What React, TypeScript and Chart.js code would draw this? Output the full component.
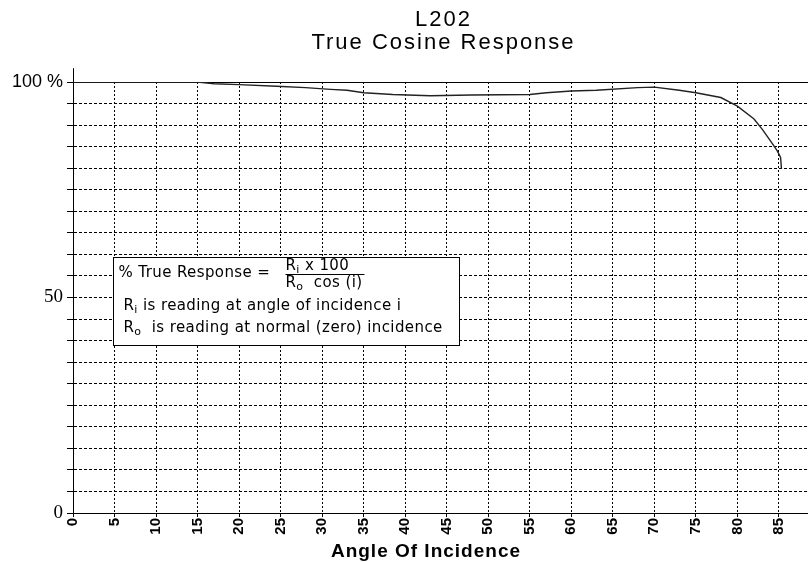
import { useEffect, useRef } from 'react';
import { Chart, registerables } from 'chart.js';

Chart.register(...registerables);

const chartTitle = ['L202', 'True Cosine Response'];
const xAxisTitle = 'Angle Of Incidence';
const xTickValues = [0, 5, 10, 15, 20, 25, 30, 35, 40, 45, 50, 55, 60, 65, 70, 75, 80, 85];
const yLabelValues = [0, 50, 100];
const yLabelTexts = ['0', '50', '100 %'];

const angles = [0, 5, 10, 15, 17, 20, 24.5, 28, 31, 33, 35, 38.5, 43, 48, 55, 57, 60, 63, 68, 70, 73, 75, 78, 80, 82, 83, 84, 84.8, 85.2, 85.3];
const response = [100, 100, 100, 100, 99.6, 99.4, 99.0, 98.7, 98.3, 98.1, 97.5, 97.1, 96.8, 97.0, 97.1, 97.5, 97.9, 98.1, 98.7, 98.8, 98.1, 97.5, 96.4, 94.4, 91.4, 89.0, 86.3, 84.0, 82.5, 79.9];

const SANS = '"Liberation Sans", Arial, sans-serif';
const WIDE = '"DejaVu Sans", sans-serif';
const SERIF = '"Liberation Serif", "Times New Roman", serif';

type Part = { t: string; sub?: boolean };

function drawRich(ctx: CanvasRenderingContext2D, parts: Part[], x: number, y: number, size: number) {
  let cx = x;
  for (const p of parts) {
    if (p.sub) {
      ctx.font = `${Math.round(size * 0.7)}px ${WIDE}`;
      ctx.fillText(p.t, cx, y + 3);
    } else {
      ctx.font = `${size}px ${WIDE}`;
      ctx.fillText(p.t, cx, y);
    }
    cx += ctx.measureText(p.t).width;
  }
  return cx - x;
}

const overlayPlugin = {
  id: 'overlay',
  afterDraw(chart: any) {
    const { ctx, chartArea, scales } = chart;
    const xs = scales.x;
    const ys = scales.y;
    ctx.save();
    // y axis extension above 100
    const ppu = (chartArea.bottom - chartArea.top) / 100;
    const ax = Math.round(chartArea.left) + 0.5;
    ctx.strokeStyle = '#000';
    ctx.lineWidth = 1;
    ctx.beginPath();
    ctx.moveTo(ax, chartArea.top);
    ctx.lineTo(ax, chartArea.top - 3.2 * ppu);
    ctx.stroke();

    // titles
    ctx.fillStyle = '#000';
    ctx.textAlign = 'center';
    ctx.textBaseline = 'alphabetic';
    (ctx as any).letterSpacing = '2px';
    ctx.font = `22px ${SANS}`;
    const cxTitle = (chartArea.left + chartArea.right) / 2 + 3;
    ctx.fillText(chartTitle[0], cxTitle, 26);
    ctx.fillText(chartTitle[1], cxTitle, 49);
    (ctx as any).letterSpacing = '1px';
    ctx.font = `bold 19px ${SANS}`;
    ctx.fillText(xAxisTitle, xs.getPixelForValue(42.5), chart.height - 5);

    // formula box
    (ctx as any).letterSpacing = '0.4px';
    const bl = Math.round(xs.getPixelForValue(4.8)) + 0.5;
    const br = Math.round(xs.getPixelForValue(46.5)) + 0.5;
    const bt = Math.round(ys.getPixelForValue(59.5)) + 0.5;
    const bb = Math.round(ys.getPixelForValue(38.9)) + 0.5;
    ctx.fillStyle = '#fff';
    ctx.fillRect(bl, bt, br - bl, bb - bt);
    ctx.strokeStyle = '#000';
    ctx.strokeRect(bl, bt, br - bl, bb - bt);
    ctx.fillStyle = '#000';
    ctx.textAlign = 'left';
    const fs = 15;
    drawRich(ctx, [{ t: '% True Response =' }], bl + 5, bt + 19, fs);
    const fx = bl + 172;
    const w1 = drawRich(ctx, [{ t: 'R' }, { t: 'i', sub: true }, { t: ' x 100' }], fx, bt + 12, fs);
    const w2 = drawRich(ctx, [{ t: 'R' }, { t: 'o', sub: true }, { t: '  cos (i)' }], fx, bt + 29, fs);
    const bw = Math.max(w1, w2) + 2;
    ctx.beginPath();
    ctx.moveTo(fx, Math.round(bt + 16) + 0.5);
    ctx.lineTo(fx + bw, Math.round(bt + 16) + 0.5);
    ctx.stroke();
    drawRich(ctx, [{ t: 'R' }, { t: 'i', sub: true }, { t: ' is reading at angle of incidence i' }], bl + 10, bt + 52, fs);
    drawRich(ctx, [{ t: 'R' }, { t: 'o', sub: true }, { t: '  is reading at normal (zero) incidence' }], bl + 10, bt + 74, fs);
    ctx.restore();
  },
};

export default function App() {
  const ref = useRef<HTMLCanvasElement | null>(null);

  useEffect(() => {
    if (!ref.current) return;
    const points = angles.map((a, i) => ({ x: a, y: response[i] }));
    const chart = new Chart(ref.current, {
      type: 'line',
      data: {
        datasets: [
          {
            data: points,
            borderColor: '#222',
            borderWidth: 1.4,
            pointRadius: 0,
            tension: 0,
            fill: false,
          },
        ],
      },
      options: {
        animation: false,
        responsive: false,
        devicePixelRatio: 1,
        layout: { padding: { top: 82, left: 0, right: 0, bottom: 0 } },
        plugins: { legend: { display: false }, title: { display: false }, tooltip: { enabled: false } },
        scales: {
          x: {
            type: 'linear',
            min: 0,
            max: 88.5,
            afterFit: (s: any) => {
              s.height = 49;
            },
            afterBuildTicks: (s: any) => {
              s.ticks = xTickValues.map((v) => ({ value: v }));
            },
            ticks: {
              stepSize: 5,
              autoSkip: false,
              minRotation: 90,
              maxRotation: 90,
              padding: 1,
              color: '#000',
              font: { family: SANS, size: 15, weight: 'bold' },
              callback: (v: any) => String(v),
            },
            grid: {
              color: '#000',
              lineWidth: 1,
              tickLength: 4,
              tickColor: '#000',
              tickBorderDash: [],
            },
            border: { display: true, color: '#000', width: 1, dash: [2, 2] },
          },
          y: {
            min: 0,
            max: 100,
            afterFit: (s: any) => {
              s.width = 73;
            },
            ticks: {
              stepSize: 5,
              autoSkip: false,
              padding: 4,
              color: '#000',
              font: (c: any) =>
                c.tick && c.tick.value === 100
                  ? { family: SANS, size: 18 }
                  : { family: SERIF, size: 19 },
              callback: (v: any) => {
                const i = yLabelValues.indexOf(Number(v));
                return i >= 0 ? yLabelTexts[i] : '';
              },
            },
            grid: {
              color: '#000',
              lineWidth: 1,
              tickLength: 6,
              tickColor: '#000',
              tickBorderDash: [],
            },
            border: {
              display: true,
              color: '#000',
              width: 1,
              dash: (c: any) => (c.tick && c.tick.value === 100 ? [] : [3, 2]),
            },
          },
        },
      },
      plugins: [overlayPlugin],
    } as any);
    return () => chart.destroy();
  }, []);

  return (
    <div style={{ position: 'fixed', left: 0, top: 0, width: 808, height: 562, background: '#fff' }}>
      <canvas ref={ref} width={808} height={562} style={{ display: 'block' }} />
    </div>
  );
}
